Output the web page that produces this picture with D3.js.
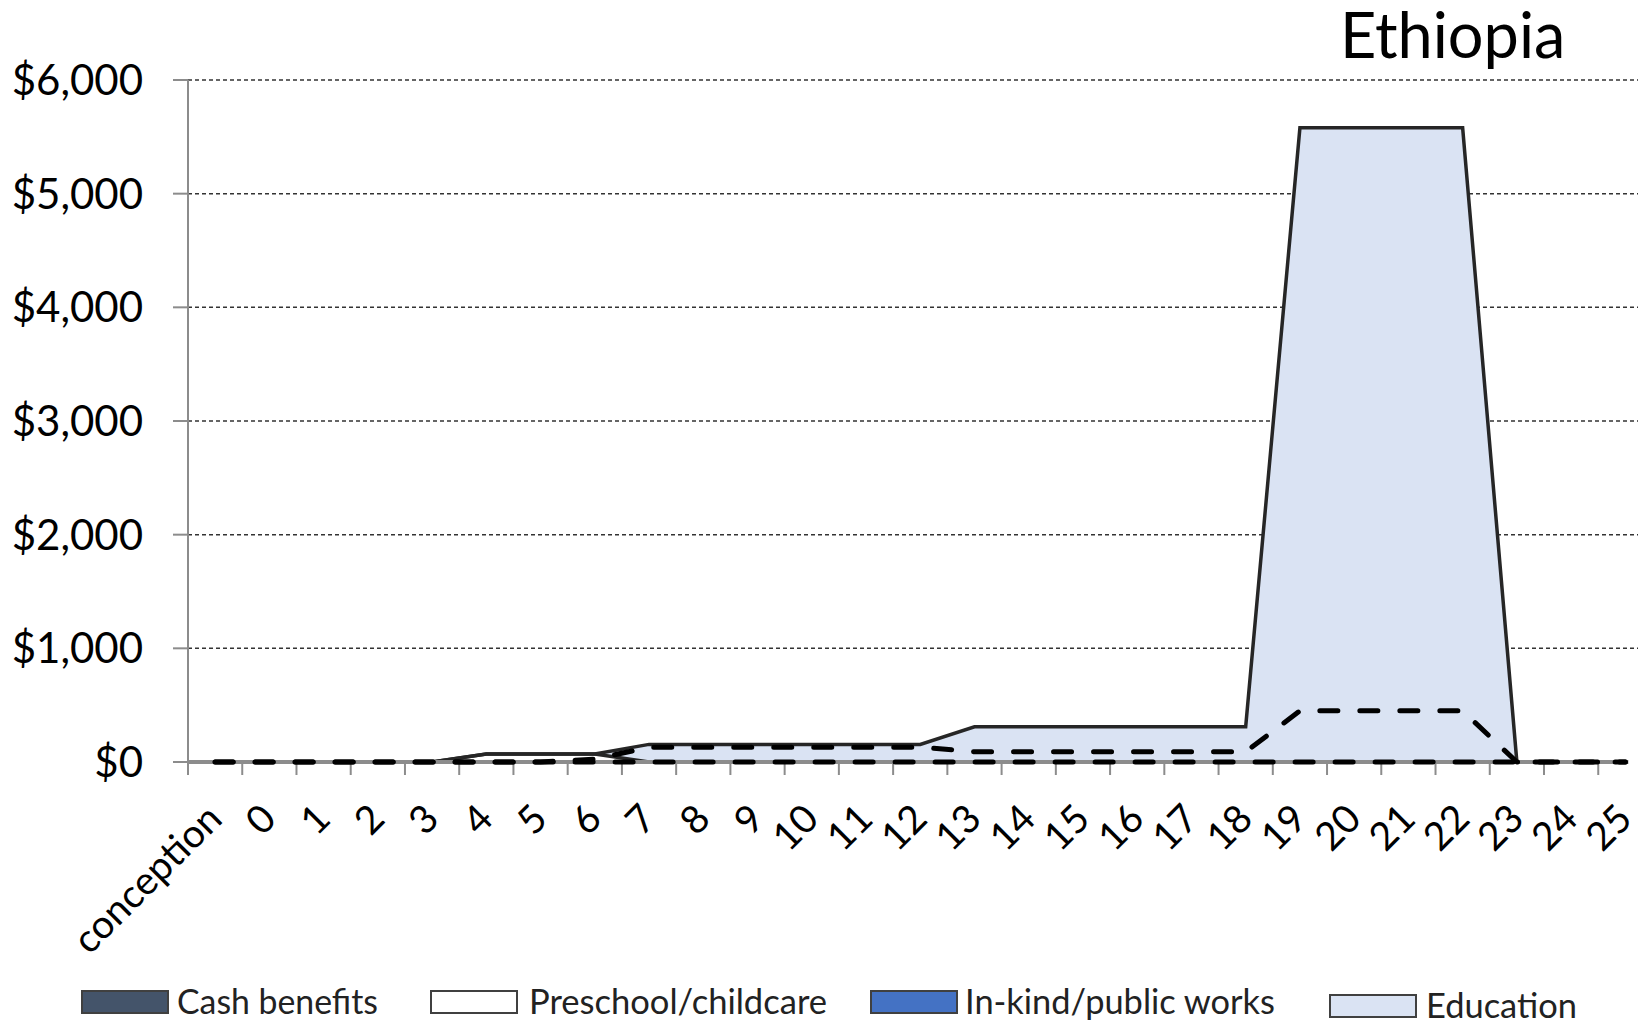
<!DOCTYPE html>
<html>
<head>
<meta charset="utf-8">
<script src="https://cdn.jsdelivr.net/npm/d3@7"></script>
<style>
  body { margin: 0; background: #fff; }
  svg { display: block; }
  text { font-family: Lato, "Noto Sans", sans-serif; fill: #000; }
</style>
</head>
<body>
<svg id="chart" width="1638" height="1025"></svg>
<script>
// Public spending per child by age, Ethiopia (US$)
const chartTitle = "Ethiopia";
const ages = ["conception", "0", "1", "2", "3", "4", "5", "6", "7", "8", "9", "10", "11", "12",
              "13", "14", "15", "16", "17", "18", "19", "20", "21", "22", "23", "24", "25"];

// stacked area series
const cashBenefits = [0, 0, 0, 0, 0, 0, 0, 0, 0, 0, 0, 0, 0, 0, 0, 0, 0, 0, 0, 0, 0, 0, 0, 0, 0, 0, 0];
const preschool    = [0, 0, 0, 0, 0, 70, 70, 70, 0, 0, 0, 0, 0, 0, 0, 0, 0, 0, 0, 0, 0, 0, 0, 0, 0, 0, 0];
const inKind       = [0, 0, 0, 0, 0, 0, 0, 0, 0, 0, 0, 0, 0, 0, 0, 0, 0, 0, 0, 0, 0, 0, 0, 0, 0, 0, 0];
const education    = [0, 0, 0, 0, 0, 0, 0, 0, 155, 155, 155, 155, 155, 155, 310, 310, 310, 310, 310, 310,
                      5580, 5580, 5580, 5580, 0, 0, 0];

// dashed overlay line
const otherSpending = [0, 0, 0, 0, 0, 0, 0, 25, 130, 130, 130, 130, 130, 130, 90, 90, 90, 90, 90, 90,
                       450, 450, 450, 450, 0, 0, 0];

const yTicks = [0, 1000, 2000, 3000, 4000, 5000, 6000];
const seriesNames = ["Cash benefits", "Preschool/childcare", "In-kind/public works", "Education"];
const seriesColors = ["#44546A", "#FFFFFF", "#4472C4", "#DAE3F3"];

// ---- layout ----
const W = 1638, H = 1025;
const plotLeft = 188, plotTop = 80, plotBottom = 762;
const bandW = 54.24;

const svg = d3.select("#chart");

const x = d3.scaleBand()
  .domain(ages)
  .range([plotLeft, plotLeft + bandW * ages.length])
  .padding(0);
const cx = d => x(d) + x.bandwidth() / 2;

const y = d3.scaleLinear().domain([0, 6000]).range([plotBottom, plotTop]);

const axisGrey = "#8C8C8C";
const lineDark = "#262626";

// gridlines
svg.append("g")
  .selectAll("line")
  .data(yTicks.filter(t => t > 0))
  .join("line")
  .attr("x1", plotLeft).attr("x2", W)
  .attr("y1", d => y(d)).attr("y2", d => y(d))
  .attr("stroke", "#333")
  .attr("stroke-width", 1.5)
  .attr("stroke-dasharray", "4,3");

// stacked areas
const rows = ages.map((a, i) => ({
  age: a,
  cash: cashBenefits[i],
  preschool: preschool[i],
  inkind: inKind[i],
  education: education[i]
}));
const keys = ["cash", "preschool", "inkind", "education"];
const stacked = d3.stack().keys(keys)(rows);

const area = d3.area()
  .x(d => cx(d.data.age))
  .y0(d => y(d[0]))
  .y1(d => y(d[1]));

svg.append("g")
  .selectAll("path")
  .data(stacked)
  .join("path")
  .attr("d", area)
  .attr("fill", (d, i) => seriesColors[i]);

// outlines of the preschool and education layers
const topLine = d3.line()
  .x(d => cx(d.data.age))
  .y(d => y(d[1]));
svg.append("g")
  .selectAll("path")
  .data([stacked[1], stacked[3]])
  .join("path")
  .attr("d", topLine)
  .attr("fill", "none")
  .attr("stroke", lineDark)
  .attr("stroke-width", 3.5)
  .attr("stroke-linejoin", "miter");

// y axis
svg.append("line")
  .attr("x1", plotLeft).attr("x2", plotLeft)
  .attr("y1", y(6000)).attr("y2", y(0))
  .attr("stroke", axisGrey).attr("stroke-width", 2);
svg.append("g")
  .selectAll("line")
  .data(yTicks)
  .join("line")
  .attr("x1", plotLeft - 15).attr("x2", plotLeft)
  .attr("y1", d => y(d)).attr("y2", d => y(d))
  .attr("stroke", axisGrey).attr("stroke-width", 2);
svg.append("g")
  .selectAll("text")
  .data(yTicks)
  .join("text")
  .attr("x", 143)
  .attr("y", d => y(d))
  .attr("dy", "0.36em")
  .attr("text-anchor", "end")
  .style("font-size", "42px")
  .text(d => "$" + d3.format(",")(d));

// x axis
const lastCenter = cx(ages[ages.length - 1]);
svg.append("line")
  .attr("x1", plotLeft).attr("x2", lastCenter + 3)
  .attr("y1", y(0)).attr("y2", y(0))
  .attr("stroke", axisGrey).attr("stroke-width", 4);
svg.append("g")
  .selectAll("line")
  .data(ages)
  .join("line")
  .attr("x1", d => x(d)).attr("x2", d => x(d))
  .attr("y1", y(0)).attr("y2", y(0) + 13)
  .attr("stroke", axisGrey).attr("stroke-width", 2);

// dashed lines
const dashLine = d3.line().x((d, i) => cx(ages[i])).y(d => y(d));
svg.append("g")
  .selectAll("path")
  .data([cashBenefits, otherSpending])
  .join("path")
  .attr("d", dashLine)
  .attr("fill", "none")
  .attr("stroke", "#000")
  .attr("stroke-width", 5)
  .attr("stroke-linecap", "round")
  .attr("stroke-linejoin", "round")
  .attr("stroke-dasharray", "18,22");

// category labels
svg.append("g")
  .selectAll("text")
  .data(ages)
  .join("text")
  .attr("transform", d => `translate(${cx(d) + 9},821) rotate(-45)`)
  .attr("text-anchor", "end")
  .style("font-size", "39px")
  .text(d => d);

// title
svg.append("text")
  .attr("x", 1340).attr("y", 58)
  .style("font-size", "63px")
  .text(chartTitle);

// legend
const legendSwatchX = [82, 431, 871, 1330];
const legendTextX = [177, 529, 965, 1426];
const legendTextW = [201, 298, 310, 151];
const legendDy = [0, 0, 0, 4];
const lg = svg.append("g");
seriesNames.forEach((name, i) => {
  lg.append("rect")
    .attr("x", legendSwatchX[i]).attr("y", 991 + legendDy[i])
    .attr("width", 86).attr("height", 22)
    .attr("fill", seriesColors[i])
    .attr("stroke", "#404040").attr("stroke-width", 2);
  lg.append("text")
    .attr("x", legendTextX[i]).attr("y", 1014 + legendDy[i])
    .attr("textLength", legendTextW[i])
    .attr("lengthAdjust", "spacingAndGlyphs")
    .style("font-size", "34px")
    .style("fill", "#222")
    .text(name);
});
</script>
</body>
</html>
